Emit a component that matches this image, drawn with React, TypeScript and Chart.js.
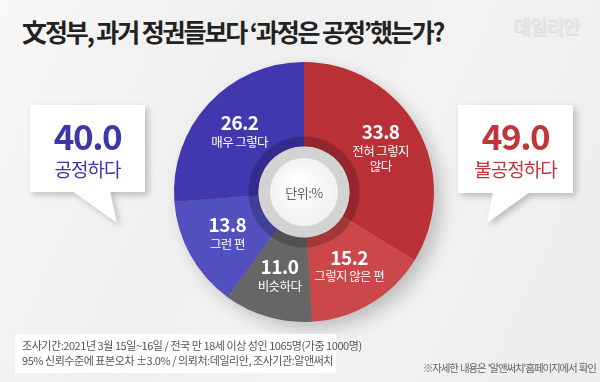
import React, { useEffect, useRef } from 'react';
import { Chart, registerables } from 'chart.js';

Chart.register(...registerables);

const categories = ['전혀 그렇지 않다', '그렇지 않은 편', '비슷하다', '그런 편', '매우 그렇다'];
const labelLines = [['전혀 그렇지', '않다'], ['그렇지 않은 편'], ['비슷하다'], ['그런 편'], ['매우 그렇다']];
const values = [33.8, 15.2, 11.0, 13.8, 26.2];
const sliceColors = ['#b93136', '#cc474a', '#666666', '#5150be', '#4138b0'];
const summaryValues = ['40.0', '49.0'];
const summaryLabels = ['공정하다', '불공정하다'];
const title = '文정부, 과거 정권들보다 ‘과정은 공정’했는가?';
const footLines = [
  '조사기간:2021년 3월 15일~16일 / 전국 만 18세 이상 성인 1065명(가중 1000명)',
  '95% 신뢰수준에 표본오차 ±3.0% / 의뢰처:데일리안, 조사기관:알앤써치',
];
const sideNote = "※자세한 내용은 '알앤써치'홈페이지에서 확인";
const unitText = '단위:%';

const FONT = '"Noto Sans CJK KR", "Noto Sans", sans-serif';

const centerPlugin = {
  id: 'centerDeco',
  beforeDatasetsDraw(chart: any) {
    const meta = chart.getDatasetMeta(0);
    const arc = meta.data[0];
    if (!arc) return;
    const { x, y, outerRadius } = arc.getProps(['x', 'y', 'outerRadius'], true);
    const ctx = chart.ctx;
    ctx.save();
    ctx.shadowColor = 'rgba(0,0,0,0.22)';
    ctx.shadowBlur = 18;
    ctx.shadowOffsetX = 8;
    ctx.shadowOffsetY = 8;
    ctx.fillStyle = '#888';
    ctx.beginPath();
    ctx.arc(x, y, outerRadius - 1, 0, Math.PI * 2);
    ctx.fill();
    ctx.restore();
  },
  afterDatasetsDraw(chart: any) {
    const meta = chart.getDatasetMeta(0);
    const ctx = chart.ctx;
    const first = meta.data[0];
    if (!first) return;
    const { x, y, innerRadius } = first.getProps(['x', 'y', 'innerRadius'], true);
    ctx.save();
    ctx.fillStyle = 'rgba(0,0,0,0.2)';
    ctx.beginPath();
    ctx.arc(x, y, innerRadius + 10, 0, Math.PI * 2);
    ctx.arc(x, y, innerRadius, 0, Math.PI * 2, true);
    ctx.fill();
    ctx.fillStyle = '#d3d3d3';
    ctx.beginPath();
    ctx.arc(x, y, innerRadius, 0, Math.PI * 2);
    ctx.fill();
    const g = ctx.createRadialGradient(x - 8, y - 8, 4, x, y, innerRadius - 11);
    g.addColorStop(0, '#ffffff');
    g.addColorStop(1, '#f1f1f1');
    ctx.fillStyle = g;
    ctx.beginPath();
    ctx.arc(x, y, innerRadius - 11.5, 0, Math.PI * 2);
    ctx.fill();
    ctx.fillStyle = '#606060';
    ctx.font = `400 13px ${FONT}`;
    (ctx as any).letterSpacing = '-0.5px';
    ctx.textAlign = 'center';
    ctx.textBaseline = 'middle';
    ctx.fillText(unitText, x, y + 1);

    meta.data.forEach((el: any, i: number) => {
      const p = el.tooltipPosition();
      const lines = labelLines[i];
      const H = 20 + 15 * lines.length;
      const top = p.y - H / 2 - 1;
      ctx.fillStyle = '#ffffff';
      ctx.font = `700 19px ${FONT}`;
      (ctx as any).letterSpacing = '-0.5px';
      ctx.fillText(values[i].toFixed(1), p.x, top + 9);
      ctx.font = `400 12.5px ${FONT}`;
      (ctx as any).letterSpacing = '-0.6px';
      lines.forEach((t, k) => {
        ctx.fillText(t, p.x, top + 28 + 15 * k);
      });
    });
    ctx.restore();
  },
};

function Callout(props: {
  left: number; top: number; w: number; h: number;
  tail: [number, number][]; value: string; label: string; color: string;
}) {
  const { left, top, w, h, tail, value, label, color } = props;
  const pts = tail.map(([px, py]) => `${px}px ${py}px`).join(',');
  return (
    <div style={{ position: 'absolute', left: 0, top: 0, width: 600, height: 382, filter: 'drop-shadow(3px 3px 3px rgba(0,0,0,0.22))' }}>
      <div style={{ position: 'absolute', left: 0, top: 0, width: 600, height: 382, background: '#fff', clipPath: `polygon(${pts})` }} />
      <div style={{ position: 'absolute', left, top, width: w, height: h, background: '#fff' }}>
        <div style={{ position: 'absolute', left: 0, top: 10, width: w, textAlign: 'center', color, font: `700 35px ${FONT}`, letterSpacing: '-1.5px', lineHeight: '40px' }}>{value}</div>
        <div style={{ position: 'absolute', left: 0, top: 52, width: w, textAlign: 'center', color, font: `400 19px ${FONT}`, letterSpacing: '-1px', lineHeight: '24px' }}>{label}</div>
      </div>
    </div>
  );
}

export default function App() {
  const canvasRef = useRef<HTMLCanvasElement | null>(null);

  useEffect(() => {
    if (!canvasRef.current) return;
    const chart = new Chart(canvasRef.current, {
      type: 'doughnut',
      data: {
        labels: categories,
        datasets: [{ data: values, backgroundColor: sliceColors, borderWidth: 0, hoverOffset: 0 }],
      },
      options: {
        animation: false,
        responsive: false,
        cutout: '35%',
        layout: { padding: { left: 174, top: 62, right: 166, bottom: 60 } },
        plugins: { legend: { display: false }, tooltip: { enabled: false } },
        events: [],
      },
      plugins: [centerPlugin],
    });
    return () => chart.destroy();
  }, []);

  return (
    <div style={{ position: 'fixed', left: 0, top: 0, width: 600, height: 382, overflow: 'hidden', background: 'linear-gradient(115deg, #f8f8f8 0%, #efefef 35%, #f3f3f3 60%, #ececec 100%)', fontFamily: FONT }}>
      <div style={{ position: 'absolute', left: 22, top: 14, font: `700 25px ${FONT}`, letterSpacing: '-2.1px', color: '#222', whiteSpace: 'nowrap', lineHeight: '34px' }}>{title}</div>
      <div style={{ position: 'absolute', left: 513, top: 11, font: `700 19px ${FONT}`, letterSpacing: '-1px', color: '#e6e6e6', textShadow: '1px 1px 1px rgba(0,0,0,0.1)', lineHeight: '30px' }}>데일리안</div>
      <canvas ref={canvasRef} width={600} height={382} style={{ position: 'absolute', left: 0, top: 0, width: 600, height: 382 }} />
      <Callout left={30} top={105} w={115} h={87} tail={[[72, 191], [110, 191], [117, 223]]} value={summaryValues[0]} label={summaryLabels[0]} color="#3d36a8" />
      <Callout left={458} top={105} w={115} h={88} tail={[[493, 192], [530, 192], [487, 223]]} value={summaryValues[1]} label={summaryLabels[1]} color="#c0353a" />
      <div style={{ position: 'absolute', left: 15, top: 334, width: 321, height: 39, background: 'rgba(255,255,255,0.95)' }}>
        {footLines.map((t, i) => (
          <div key={i} style={{ position: 'absolute', left: 7, top: 4 + i * 15, font: `400 11px ${FONT}`, letterSpacing: '-0.45px', color: '#555', whiteSpace: 'nowrap', lineHeight: '15px' }}>{t}</div>
        ))}
      </div>
      <div style={{ position: 'absolute', left: 423, top: 360, font: `400 10.5px ${FONT}`, letterSpacing: '-1.15px', wordSpacing: '1px', color: '#666', whiteSpace: 'nowrap', lineHeight: '15px' }}>{sideNote}</div>
    </div>
  );
}
